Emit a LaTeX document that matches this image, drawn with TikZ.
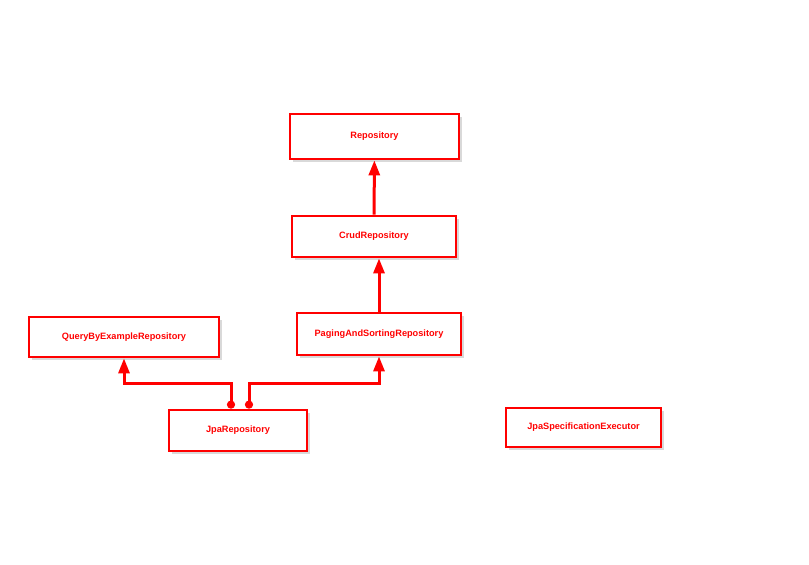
\documentclass[tikz,border=0pt]{standalone}
\usepackage{fontspec}
\setsansfont{Liberation Sans}
\usetikzlibrary{arrows.meta,shadows}
\begin{document}
\begin{tikzpicture}[x=1pt,y=-1pt,
		iface/.style={draw=red,line width=2.8pt,fill=white,inner sep=0pt,text=red,
			font=\sffamily\bfseries\fontsize{9.2}{11}\selectfont,
			drop shadow={shadow xshift=3pt,shadow yshift=-3pt,opacity=0.3,fill=gray}},
		ext/.style={draw=red,line width=3pt,-{Triangle[length=15pt,width=11pt]}},
		dotext/.style={ext,{Circle[length=8pt]}-{Triangle[length=15pt,width=11pt]}}]
	\useasboundingbox (0,0) rectangle (809,565);
	\node[iface,minimum width=169pt,minimum height=45pt] (repo) at (374.5,136.5) {Repository};
	\node[iface,minimum width=164pt,minimum height=41pt] (crud) at (374,236.5) {CrudRepository};
	\node[iface,minimum width=164pt,minimum height=42pt] (paging) at (379,334) {PagingAndSortingRepository};
	\node[iface,minimum width=190pt,minimum height=40pt] (qbe) at (124,337) {QueryByExampleRepository};
	\node[iface,minimum width=138pt,minimum height=41pt] (jpa) at (238,430.5) {JpaRepository};
	\node[iface,minimum width=155pt,minimum height=39pt] (spec) at (583.5,427.5) {JpaSpecificationExecutor};
	\draw[ext] (crud) -- (repo);
	\draw[ext] (paging.north) -- (paging.north |- crud.south);
	\draw[dotext] ([xshift=-7pt]jpa.north) -- ++(0,-25) -| (qbe.south);
	\draw[dotext] ([xshift=11pt]jpa.north) -- ++(0,-25) -| (paging.south);
\end{tikzpicture}
\end{document}
